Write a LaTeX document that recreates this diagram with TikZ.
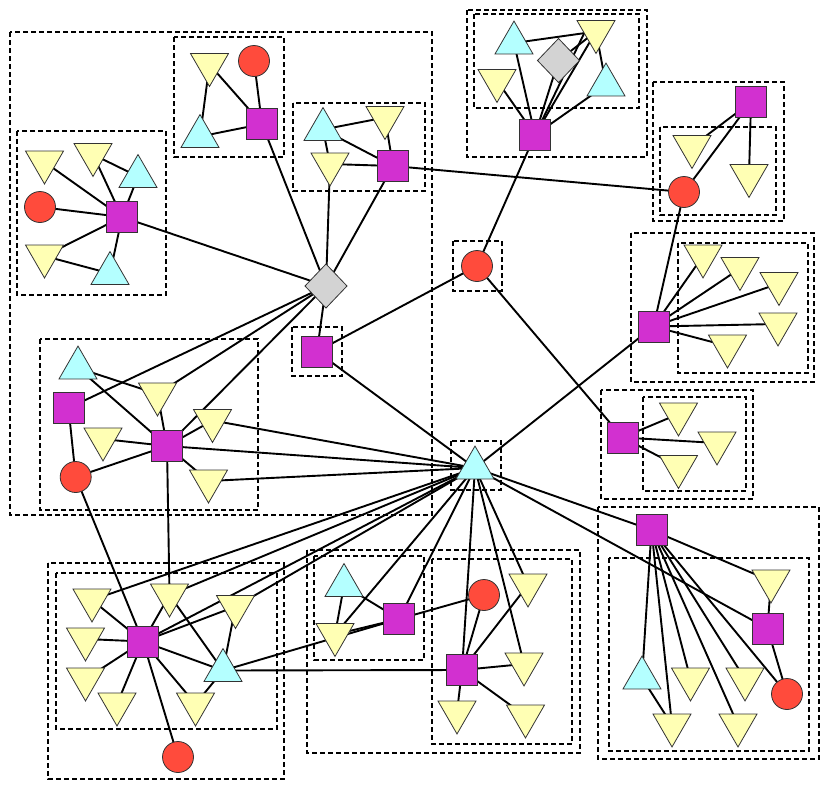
\documentclass[tikz,border=0pt]{standalone}
\usetikzlibrary{shapes.geometric,backgrounds}
\definecolor{cmag}{HTML}{D230D0}
\definecolor{cred}{HTML}{FF4B3C}
\definecolor{ccyan}{HTML}{B4FFFF}
\definecolor{cyel}{HTML}{FFFFB4}
\definecolor{cgray}{HTML}{D3D3D3}
\definecolor{cbord}{HTML}{333333}
\tikzset{
  shp/.style={draw=cbord,line width=0.8pt,inner sep=0pt,outer sep=0pt},
  sq/.style={shp,rectangle,fill=cmag,minimum size=31pt},
  rc/.style={shp,circle,fill=cred,minimum size=31pt},
  ut/.style={shp,regular polygon,regular polygon sides=3,fill=ccyan,minimum size=43.9pt},
  dt/.style={shp,regular polygon,regular polygon sides=3,shape border rotate=180,fill=cyel,minimum size=43.9pt},
  dm/.style={shp,diamond,fill=cgray,minimum width=42pt,minimum height=44pt},
  conn/.style={line width=1.9pt,black},
  grp/.style={line width=1.9pt,black,dash pattern=on 5pt off 3pt}
}
\begin{document}
\begin{tikzpicture}[x=1pt,y=-1pt]
\useasboundingbox (0,0) rectangle (830,790);
% group A
\node[dt] (Y1) at (209.5,64.5) {};
\node[rc] (R1) at (254,61) {};
\node[ut] (C1) at (200,136.5) {};
\node[sq] (M1) at (262,124) {};
% group B
\node[dt] (Y2) at (44.5,162) {};
\node[dt] (Y3) at (93,154.5) {};
\node[ut] (C2) at (138,176.5) {};
\node[rc] (R2) at (40,207) {};
\node[sq] (M2) at (122,217) {};
\node[dt] (Y4) at (44.5,256) {};
\node[ut] (C3) at (110,273.5) {};
% group C
\node[ut] (C4) at (323,129.5) {};
\node[dt] (Y5) at (385,117.5) {};
\node[dt] (Y6) at (330,164) {};
\node[sq] (M3) at (393,166) {};
% group D
\node[ut] (C5) at (514,43) {};
\node[dt] (Y8) at (596,31.5) {};
\node[dm] (D2) at (558.5,60.5) {};
\node[dt] (Y7) at (497,80.5) {};
\node[ut] (C6) at (606,85) {};
\node[sq] (M4) at (535,135) {};
% group E
\node[sq] (M5) at (751,102) {};
\node[dt] (Y9) at (692,146.5) {};
\node[dt] (Y10) at (749,175.5) {};
\node[rc] (R4) at (684,192) {};
% group F
\node[sq] (M6) at (653.5,326.5) {};
\node[dt] (Y11) at (703,256) {};
\node[dt] (Y12) at (740,268.5) {};
\node[dt] (Y13) at (779,283.5) {};
\node[dt] (Y14) at (778,324) {};
\node[dt] (Y15) at (727.5,346) {};
% group G
\node[sq] (M7) at (622.5,437.5) {};
\node[dt] (Y16) at (678.5,414) {};
\node[dt] (Y17) at (717,443) {};
\node[dt] (Y18) at (678.5,466.5) {};
% centre
\node[dm] (D1) at (326,286) {};
\node[sq] (M8) at (317,351.5) {};
\node[rc] (R3) at (477,266) {};
\node[ut] (HUB) at (475,468) {};
% group K
\node[ut] (C7) at (78,368) {};
\node[sq] (M9) at (68.5,408) {};
\node[dt] (Y19) at (157.5,394) {};
\node[dt] (Y20) at (212.5,420.5) {};
\node[dt] (Y21) at (103,439) {};
\node[sq] (M10) at (167,446) {};
\node[rc] (R5) at (75.7,477) {};
\node[dt] (Y22) at (208.5,481) {};
% group L
\node[dt] (Y23) at (92,600) {};
\node[dt] (Y24) at (169.5,595) {};
\node[dt] (Y25) at (235.5,606.5) {};
\node[dt] (Y26) at (85.5,639) {};
\node[sq] (M11) at (143,641.5) {};
\node[dt] (Y27) at (85.5,679) {};
\node[ut] (C8) at (223,670.5) {};
\node[dt] (Y28) at (117,704) {};
\node[dt] (Y29) at (195.5,704) {};
\node[rc] (R6) at (178,757) {};
% group N
\node[ut] (C9) at (344,585.5) {};
\node[dt] (Y30) at (335,634.5) {};
\node[sq] (M12) at (399,619) {};
\node[rc] (R7) at (484,595) {};
\node[dt] (Y31) at (528,585) {};
\node[sq] (M13) at (462,670) {};
\node[dt] (Y32) at (524,664) {};
\node[dt] (Y33) at (457,712) {};
\node[dt] (Y34) at (525.5,716) {};
% group O
\node[sq] (M14) at (651.5,530) {};
\node[dt] (Y35) at (771,581) {};
\node[sq] (M15) at (767.5,628.5) {};
\node[ut] (C10) at (642,678) {};
\node[dt] (Y36) at (690.5,679) {};
\node[dt] (Y37) at (745,679) {};
\node[rc] (R8) at (787,694) {};
\node[dt] (Y38) at (672,725) {};
\node[dt] (Y39) at (738,725) {};

\begin{pgfonlayer}{background}
% dashed groups
\draw[grp] (10,32) rectangle (432,515);
\draw[grp] (174,37) rectangle (284,157);
\draw[grp] (17,131) rectangle (166,295);
\draw[grp] (293,103) rectangle (425,191);
\draw[grp] (467,10) rectangle (647,157);
\draw[grp] (474,14) rectangle (639,108);
\draw[grp] (653,82) rectangle (784,221);
\draw[grp] (660,127) rectangle (776,215);
\draw[grp] (631,233) rectangle (814,382);
\draw[grp] (678,243) rectangle (808,373);
\draw[grp] (601,390) rectangle (753,499);
\draw[grp] (643,397) rectangle (746,491);
\draw[grp] (292,327) rectangle (342,376);
\draw[grp] (453,241) rectangle (502,291);
\draw[grp] (451,441) rectangle (501,490);
\draw[grp] (40,339) rectangle (258,510);
\draw[grp] (48,563) rectangle (284,779);
\draw[grp] (56,573) rectangle (277,729);
\draw[grp] (307,550) rectangle (580,753);
\draw[grp] (314,556) rectangle (424,660);
\draw[grp] (432,559) rectangle (572,744);
\draw[grp] (598,507) rectangle (819,759);
\draw[grp] (609,558) rectangle (809,751);
% connectors
\foreach \a/\b in {Y1/C1,Y1/M1,R1/M1,C1/M1,M1/D1,
  Y2/M2,Y3/M2,Y3/C2,C2/M2,R2/M2,Y4/M2,Y4/C3,C3/M2,M2/D1,
  C4/Y5,C4/M3,C4/Y6,Y5/M3,Y6/M3,Y6/D1,M3/D1,M3/R4,
  C5/Y8,Y8/D2,Y8/C6,M4/C5,M4/Y7,M4/D2,M4/Y8,M4/C6,M4/R3,
  M5/Y9,M5/R4,M5/Y10,R4/M6,
  M6/Y11,M6/Y12,M6/Y13,M6/Y14,M6/Y15,M6/HUB,
  M7/Y16,M7/Y17,M7/Y18,M7/R3,
  D1/M8,M8/R3,M8/HUB,
  C7/Y19,C7/M10,M9/D1,M9/R5,Y19/M10,Y19/D1,M10/D1,Y20/M10,Y21/M10,R5/M10,M10/Y22,
  Y20/HUB,M10/HUB,Y22/HUB,M10/Y24,R5/M11,
  Y23/M11,Y23/HUB,Y24/M11,Y24/C8,Y24/HUB,Y25/M11,Y25/C8,Y25/HUB,Y26/M11,Y27/M11,
  M11/C8,M11/Y28,M11/Y29,M11/R6,M11/HUB,C8/Y29,C8/M12,C8/M13,
  C9/Y30,C9/M12,Y30/M12,Y30/HUB,M12/HUB,M12/R7,M13/HUB,M13/R7,M13/Y31,M13/Y32,
  M13/Y33,M13/Y34,Y31/HUB,Y32/HUB,
  M14/HUB,M15/HUB,M14/Y35,M14/C10,M14/Y38,M14/Y36,M14/Y39,M14/Y37,M14/R8,
  C10/Y38,Y35/M15,M15/R8}
  \draw[conn] (\a.center) -- (\b.center);
\draw[conn] (M4.center) -- ([xshift=-11pt]Y8.center);
\end{pgfonlayer}
\end{tikzpicture}
\end{document}
